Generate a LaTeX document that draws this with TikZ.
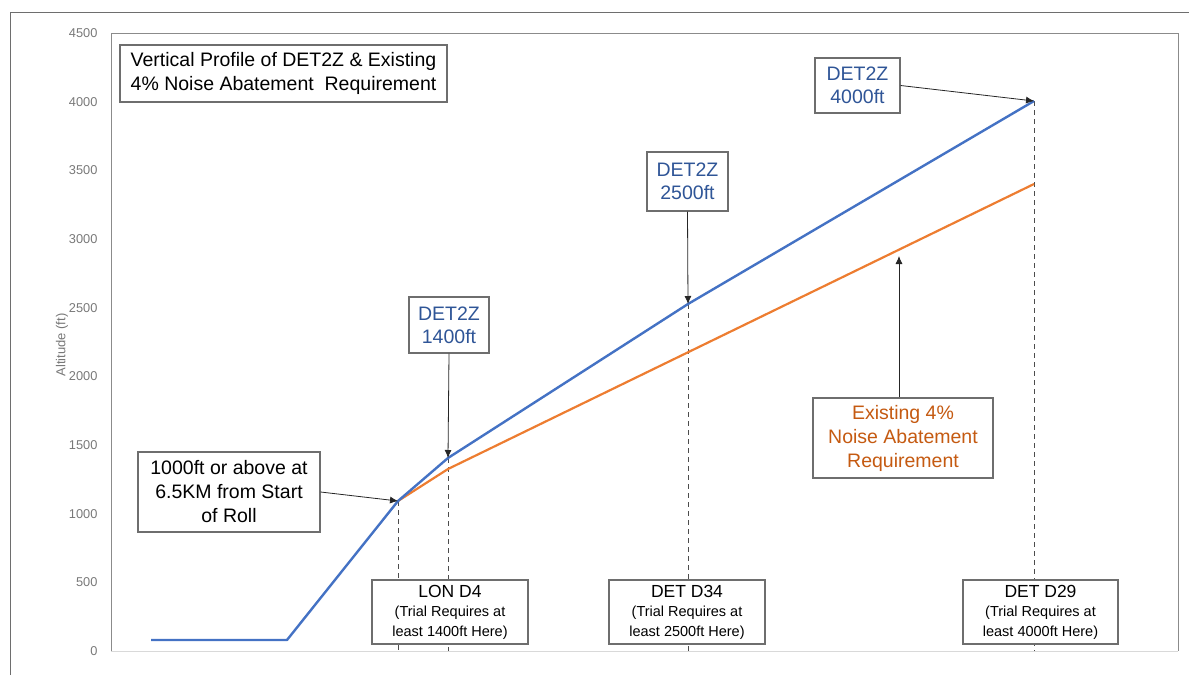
\documentclass[tikz,border=0pt]{standalone}
\usepackage{fontspec}
\setmainfont{Liberation Sans}
\usetikzlibrary{arrows.meta}
\definecolor{profblue}{RGB}{68,114,196}
\definecolor{profblue text}{RGB}{47,85,151}
\definecolor{noiseorange}{RGB}{237,125,49}
\definecolor{noiseorange text}{RGB}{197,90,17}
\definecolor{framegray}{RGB}{110,110,110}
\definecolor{tickgray}{RGB}{120,120,120}

\begin{document}
\begin{tikzpicture}[x=1pt,y=-1pt]
\tikzset{boite/.style={draw=framegray, line width=1.2pt, fill=white, align=center, inner sep=0pt},
  gros/.style={font=\fontsize{19.5}{24}\selectfont},
  bleu/.style={boite, text=profblue text, font=\fontsize{19.5}{23}\selectfont, minimum width=82, minimum height=56},
  repere/.style={boite, font=\fontsize{14.5}{19.5}\selectfont, minimum width=156, minimum height=64},
  tirets/.style={draw=black!70, line width=1pt, dash pattern=on 5pt off 4pt},
  fleche/.style={draw=black!85, line width=0.8pt, -{Latex[length=8pt,width=7pt]}},
  graduation/.style={anchor=east, text=tickgray, font=\fontsize{12.8}{14}\selectfont}}
\useasboundingbox (0,0) rectangle (1189,675);
% cadre exterieur et zone de trace
\draw[framegray, line width=1pt] (10,675) -- (10,12) -- (1189,12);
\draw[framegray!80, line width=1pt] (111,651) -- (111,33) -- (1178,33) -- (1178,651);
\draw[black!15, line width=1pt] (111,651) -- (1178,651);
% graduations
\node[graduation] (T0) at (101,651) {0};
\node[graduation] (T1) at (101,582.3) {500};
\node[graduation] (T2) at (101,513.7) {1000};
\node[graduation] (T3) at (101,445) {1500};
\node[graduation] (T4) at (101,376.3) {2000};
\node[graduation] (T5) at (101,307.7) {2500};
\node[graduation] (T6) at (101,239) {3000};
\node[graduation] (T7) at (101,170.3) {3500};
\node[graduation] (T8) at (101,101.7) {4000};
\node[graduation] (T9) at (101,33) {4500};
\node[text=tickgray, font=\fontsize{13}{14}\selectfont, rotate=90] (Alt) at (62,345) {Altitude (ft)};
% points du profil
\coordinate (B1) at (151,640);
\coordinate (B2) at (287,640);
\coordinate (B3) at (398,501);
\coordinate (B4) at (448,458);
\coordinate (B5) at (688,304);
\coordinate (B6) at (1034,101);
\coordinate (O4) at (448,469);
\coordinate (O6) at (1034,184);
\coordinate (ON) at (899,256);
% lignes de rappel
\draw[tirets] (B3) -- (398,651);
\draw[tirets] (B4) -- (448,651);
\draw[tirets] (B5) -- (688,651);
\draw[tirets] (B6) -- (1034,651);
% courbes
\draw[noiseorange, line width=2.2pt, line join=round] (B3) -- (O4) -- (O6);
\draw[profblue, line width=2.4pt, line join=round] (B1) -- (B2) -- (B3) -- (B4) -- (B5) -- (B6);
% etiquettes
\node[boite, gros, minimum width=327, minimum height=57] (Titre) at (283.5,73.5) {Vertical Profile of DET2Z \& Existing\\4\% Noise Abatement\ \ Requirement};
\node[bleu, minimum width=85, minimum height=55] (D4000) at (857.5,85.5) {DET2Z\\4000ft};
\node[bleu, minimum width=81, minimum height=59] (D2500) at (687.5,181.5) {DET2Z\\2500ft};
\node[bleu, minimum width=80, minimum height=56] (D1400) at (449,325) {DET2Z\\1400ft};
\node[boite, gros, minimum width=182, minimum height=80] (Roll) at (229,492) {1000ft or above at\\6.5KM from Start\\of Roll};
\node[boite, gros, text=noiseorange text, minimum width=180, minimum height=80] (Noise) at (903,438) {Existing 4\%\\Noise Abatement\\Requirement};
\node[repere] (LON) at (450,612) {{\fontsize{17.5}{19.5}\selectfont LON D4}\\(Trial Requires at\\least 1400ft Here)};
\node[repere] (D34) at (687,612) {{\fontsize{17.5}{19.5}\selectfont DET D34}\\(Trial Requires at\\least 2500ft Here)};
\node[repere, minimum width=155] (D29) at (1040.5,612) {{\fontsize{17.5}{19.5}\selectfont DET D29}\\(Trial Requires at\\least 4000ft Here)};
% fleches
\draw[fleche] (D4000.east) -- (B6);
\draw[fleche] (D2500.south) -- (B5);
\draw[fleche] (D1400.south) -- (B4);
\draw[fleche] (Roll.east) -- (B3);
\draw[fleche] (Noise.north -| ON) -- (ON);
\end{tikzpicture}
\end{document}
